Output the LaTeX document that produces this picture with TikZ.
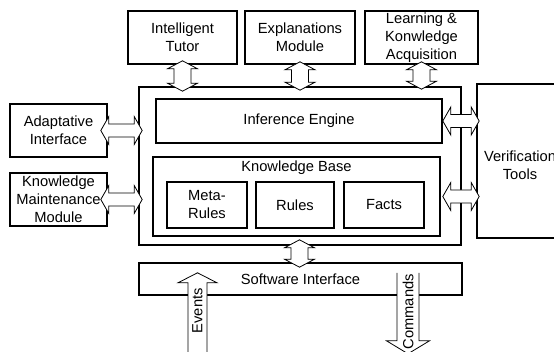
\documentclass[tikz,border=0pt]{standalone}
\usepackage{fontspec}
\setmainfont{Liberation Sans}
\usetikzlibrary{calc}

\tikzset{
  txt/.style={font=\fontsize{14.7}{18}\selectfont},
  box/.style={txt, draw, line width=1.6pt, align=center, inner sep=0pt},
  blockarrow/.style={draw, fill=white, line width=0.8pt, line join=miter},
  arrowfill/.style={fill=white},
  arrowline/.style={draw, line width=0.8pt, line join=miter},
  arrowtext/.style={txt, rotate=90, inner sep=0pt}
}

% vertical double block arrow between tip #1 (top) and tip #2 (bottom)
\newcommand{\vdblarrow}[2]{%
  \draw[blockarrow] (#1) -- ($(#1)+(15,8)$) -- ($(#1)+(8.5,8)$)
    -- ($(#2)+(8.5,-8)$) -- ($(#2)+(15,-8)$) -- (#2)
    -- ($(#2)+(-15,-8)$) -- ($(#2)+(-8.5,-8)$)
    -- ($(#1)+(-8.5,8)$) -- ($(#1)+(-15,8)$) -- cycle;}

% horizontal double block arrow between tip #1 (left) and tip #2 (right)
\newcommand{\hdblarrow}[2]{%
  \draw[blockarrow] (#1) -- ($(#1)+(8,-14)$) -- ($(#1)+(8,-6.5)$)
    -- ($(#2)+(-8,-6.5)$) -- ($(#2)+(-8,-14)$) -- (#2)
    -- ($(#2)+(-8,14)$) -- ($(#2)+(-8,6.5)$)
    -- ($(#1)+(8,6.5)$) -- ($(#1)+(8,14)$) -- cycle;}

\begin{document}
\begin{tikzpicture}[x=1pt,y=-1pt]
  \clip (0,0) rectangle (554,352);
  \fill[white] (0,0) rectangle (554,352);

  % outer modules
  \node[box, minimum width=109pt, minimum height=53pt] (tutor) at (182.5,37.5) {Intelligent\\Tutor};
  \node[box, minimum width=110pt, minimum height=53pt] (expl) at (300,37.5) {Explanations\\Module};
  \node[box, minimum width=113pt, minimum height=53pt] (learn) at (421.5,37.5) {Learning \&\\Konwledge\\Acquisition};
  \node[box, minimum width=97pt, minimum height=53pt] (adapt) at (58.5,130.5) {Adaptative\\Interface};
  \node[box, minimum width=97pt, minimum height=53pt] (kmm) at (58.5,199.5) {Knowledge\\Maintenance\\Module};
  \node[box, minimum width=86pt, minimum height=154pt,
        label={[txt, align=center, yshift=-4pt]center:{Verification\\Tools}}] (verif) at (520,161) {};

  % core of the system
  \node[box, minimum width=322pt, minimum height=158pt] (main) at (300,166) {};
  \node[box, minimum width=286pt, minimum height=44pt] (infer) at (299,121) {Inference Engine};
  \node[box, minimum width=287pt, minimum height=79pt,
        label={[txt, anchor=north, inner sep=0pt, yshift=-4pt]north:Knowledge Base}] (kb) at (296.5,196.5) {};
  \node[box, minimum width=80pt, minimum height=46pt] (meta) at (207,205) {Meta-\\Rules};
  \node[box, minimum width=78pt, minimum height=46pt] (rules) at (295,205) {Rules};
  \node[box, minimum width=80pt, minimum height=46pt] (facts) at (384,205) {Facts};
  \node[box, minimum width=323pt, minimum height=32pt] (soft) at (300.5,279) {Software Interface};

  % arrow end points
  \path (tutor.south) ++(0,-4) coordinate (tutorA);
  \path (tutor.south |- main.north) ++(0,5) coordinate (tutorB);
  \path (expl.south) ++(0,-3) coordinate (explA);
  \path (expl.south |- main.north) ++(0,4) coordinate (explB);
  \path (learn.south) ++(0,-3) coordinate (learnA);
  \path (learn.south |- main.north) ++(0,3) coordinate (learnB);
  \path (adapt.east) ++(-7,0) coordinate (adaptA);
  \path (adapt.east -| main.west) ++(4,0) coordinate (adaptB);
  \path (kmm.east) ++(-7,0) coordinate (kmmA);
  \path (kmm.east -| main.west) ++(4,0) coordinate (kmmB);
  \path (infer.east) coordinate (inferA);
  \path (infer.east -| verif.west) ++(3,0) coordinate (inferB);
  \path (kb.east) ++(2,0) coordinate (kbA);
  \path (kb.east -| verif.west) ++(3,0) coordinate (kbB);
  \path (soft.north |- main.south) ++(-1,-6) coordinate (mainA);
  \path (soft.north) ++(-1,5) coordinate (mainB);

  % two-way links
  \vdblarrow{tutorA}{tutorB}
  \vdblarrow{explA}{explB}
  \vdblarrow{learnA}{learnB}
  \vdblarrow{mainA}{mainB}
  \hdblarrow{adaptA}{adaptB}
  \hdblarrow{kmmA}{kmmB}
  \hdblarrow{inferA}{inferB}
  \hdblarrow{kbA}{kbB}

  % incoming events
  \path (soft.south) ++(-103,-23) coordinate (evTip);
  \path (evTip) ++(0,90) coordinate (evEnd);
  \draw[blockarrow] (evTip) -- ($(evTip)+(19.5,10)$) -- ($(evTip)+(9.5,10)$)
    -- ($(evEnd)+(9.5,0)$) -- ($(evEnd)+(-9.5,0)$)
    -- ($(evTip)+(-9.5,10)$) -- ($(evTip)+(-19.5,10)$) -- cycle;
  \node[arrowtext] (events) at ($(evTip)+(0,38)$) {Events};

  % outgoing commands
  \path (soft.south) ++(107.5,-23) coordinate (cmdTop);
  \path (cmdTop) ++(0,81) coordinate (cmdTip);
  \fill[arrowfill] ($(cmdTop)+(-11,0)$) -- ($(cmdTip)+(-11,-13)$) -- ($(cmdTip)+(-21.5,-13)$)
    -- (cmdTip) -- ($(cmdTip)+(21.5,-13)$) -- ($(cmdTip)+(11,-13)$) -- ($(cmdTop)+(11,0)$) -- cycle;
  \draw[arrowline] ($(cmdTop)+(-11,0)$) -- ($(cmdTip)+(-11,-13)$) -- ($(cmdTip)+(-21.5,-13)$)
    -- (cmdTip) -- ($(cmdTip)+(21.5,-13)$) -- ($(cmdTip)+(11,-13)$) -- ($(cmdTop)+(11,0)$);
  \node[arrowtext] (commands) at ($(cmdTop)+(0,39)$) {Commands};
\end{tikzpicture}
\end{document}
